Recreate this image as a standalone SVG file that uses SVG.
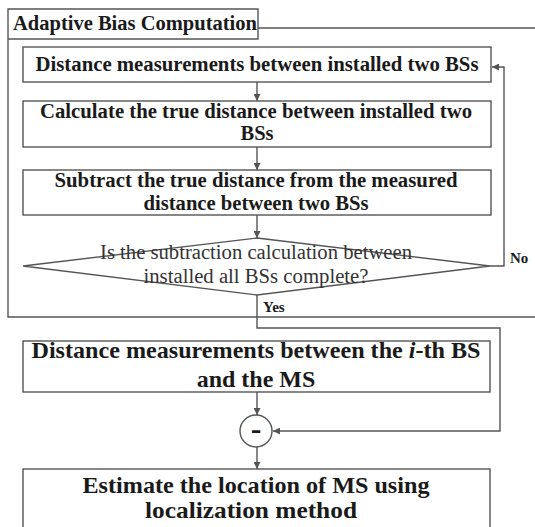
<svg xmlns="http://www.w3.org/2000/svg" width="535" height="527" viewBox="0 0 535 527">
<style>
.ln{fill:none;stroke:#555;stroke-width:1.4}
.box{fill:#fff;stroke:#555;stroke-width:1.4}
.t{font-family:"Liberation Serif","Times New Roman",serif;font-weight:bold;fill:#1a1a1a;text-anchor:middle}
.s{font-size:20.5px}
.l{font-size:24px}
.q{font-family:"Liberation Serif","Times New Roman",serif;font-size:20.5px;fill:#333;text-anchor:middle}
.lb{font-family:"Liberation Serif","Times New Roman",serif;font-weight:bold;font-size:15px;fill:#1a1a1a}
</style>
<defs>
<marker id="ah" viewBox="0 0 10 10" refX="10" refY="5" markerWidth="7" markerHeight="7" markerUnits="userSpaceOnUse" orient="auto">
<path d="M0,0 L10,5 L0,10 Z" fill="#555"/>
</marker>
</defs>
<rect width="535" height="527" fill="#fff"/>
<g id="frame">
<path class="ln" d="M8,9 H258 V39 H8 Z M8,39 V317 H535 M258,28 H535"/>
<text class="t s" x="135" y="30" textLength="244" lengthAdjust="spacingAndGlyphs">Adaptive Bias Computation</text>
</g>
<g id="box1">
<rect class="box" x="23" y="47" width="468" height="35"/>
<text class="t s" x="257" y="71" textLength="443" lengthAdjust="spacingAndGlyphs">Distance measurements between installed two BSs</text>
</g>
<g id="box2">
<rect class="box" x="23" y="101" width="468" height="46"/>
<text class="t s" x="256" y="118" textLength="432" lengthAdjust="spacingAndGlyphs">Calculate the true distance between installed two</text>
<text class="t s" x="257" y="140">BSs</text>
</g>
<g id="box3">
<rect class="box" x="23" y="170" width="468" height="45"/>
<text class="t s" x="256" y="187" textLength="403" lengthAdjust="spacingAndGlyphs">Subtract the true distance from the measured</text>
<text class="t s" x="256" y="210" textLength="225" lengthAdjust="spacingAndGlyphs">distance between two BSs</text>
</g>
<g id="decision">
<path class="box" d="M257,238 L490,266 L257,295 L23,266 Z"/>
<text class="q" x="256" y="259" textLength="312" lengthAdjust="spacingAndGlyphs">Is the subtraction calculation between</text>
<text class="q" x="256" y="283" textLength="225" lengthAdjust="spacingAndGlyphs">installed all BSs complete?</text>
</g>
<g id="box4">
<rect class="box" x="23" y="341" width="467" height="51"/>
<text class="t l" x="256" y="358" textLength="449" lengthAdjust="spacingAndGlyphs">Distance measurements between the <tspan font-style="italic">i</tspan>-th BS</text>
<text class="t l" x="256" y="387">and the MS</text>
</g>
<g id="minus">
<circle cx="256" cy="431" r="16" fill="#fff" stroke="#555" stroke-width="1.4"/>
<text class="t" x="256" y="439" font-size="32">-</text>
</g>
<g id="box5">
<rect class="box" x="23" y="469" width="467" height="70"/>
<text class="t l" x="256" y="493" textLength="347" lengthAdjust="spacingAndGlyphs">Estimate the location of MS using</text>
<text class="t l" x="251" y="518" textLength="212" lengthAdjust="spacingAndGlyphs">localization method</text>
</g>
<g id="connectors">
<path class="ln" d="M257,82 V101" marker-end="url(#ah)"/>
<path class="ln" d="M257,147 V170" marker-end="url(#ah)"/>
<path class="ln" d="M257,215 V238" marker-end="url(#ah)"/>
<path class="ln" d="M490,266 H504 V67 H492" marker-end="url(#ah)"/>
<path class="ln" d="M257,295 V328 H500 V431 H273" marker-end="url(#ah)"/>
<path class="ln" d="M257,392 V415" marker-end="url(#ah)"/>
<path class="ln" d="M257,447 V469" marker-end="url(#ah)"/>
<text class="lb" x="510" y="263">No</text>
<text class="lb" x="263" y="312">Yes</text>
</g>
</svg>
